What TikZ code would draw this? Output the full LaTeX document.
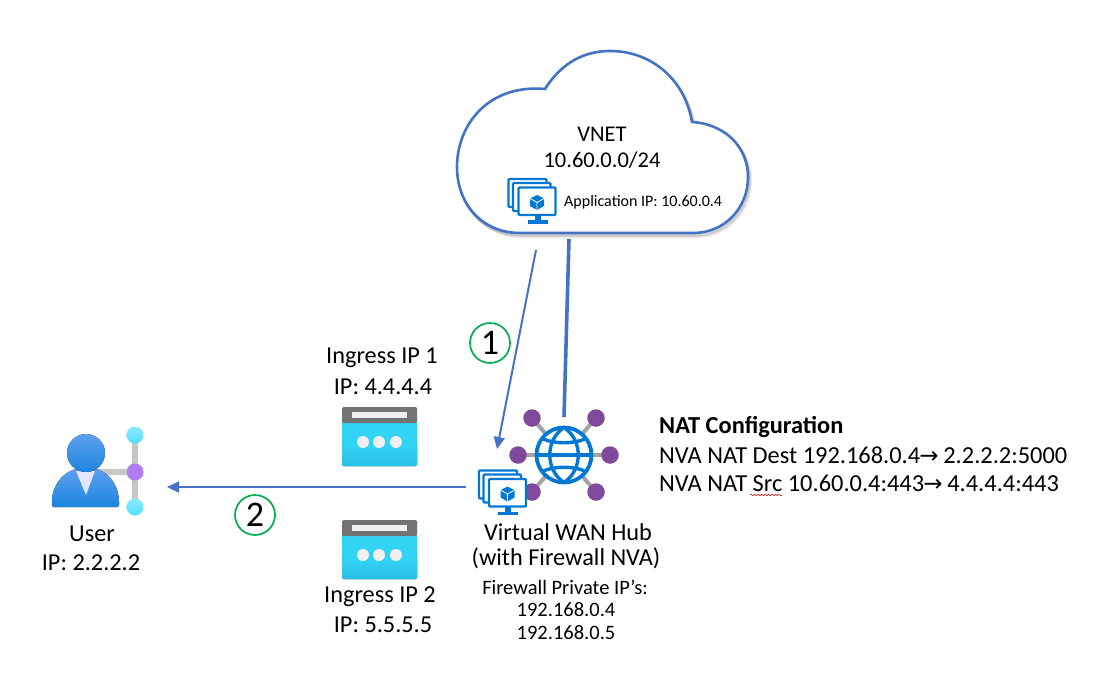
\documentclass[tikz,border=0pt]{standalone}
\usepackage{fontspec}
\setmainfont{Carlito}
\newfontfamily\arrowfont{DejaVu Sans}
\usetikzlibrary{arrows.meta,decorations.pathmorphing}
\definecolor{lineblue}{HTML}{4472C4}
\definecolor{azure}{HTML}{0078D4}
\definecolor{hubpurple}{HTML}{7F4A9C}
\definecolor{spoke}{HTML}{A3A3A3}
\definecolor{circgreen}{HTML}{00B050}
\definecolor{ingtop}{HTML}{32D4F5}
\definecolor{ingbot}{HTML}{28BFE3}
\definecolor{userlight}{HTML}{5EA0EF}
\definecolor{userdark}{HTML}{1B86DC}
\definecolor{dotlight}{HTML}{8DEBFF}
\definecolor{dotdark}{HTML}{50E0FF}
\definecolor{dotviolet}{HTML}{B07EF0}
\newcommand{\cloudpath}{(520,233) .. controls (482,233) and (457,204) .. (457,167)
  .. controls (457,125) and (488,84) .. (545,89)
  .. controls (562,62) and (585,51) .. (610,51)
  .. controls (652,51) and (685,80) .. (692,122)
  .. controls (725,124) and (748,147) .. (748,177)
  .. controls (748,208) and (725,233) .. (693,233) -- cycle}
\newcommand{\txtarrow}{{\arrowfont\fontsize{23}{24}\selectfont\hspace{-0.8pt}→\hspace{-0.8pt}}}
\tikzset{
  label24/.style={font=\fontsize{24.3}{28}\selectfont,text=black,inner sep=0pt,align=center},
  label22/.style={font=\fontsize{22.5}{26}\selectfont,text=black,inner sep=0pt,align=center},
  label20/.style={font=\fontsize{20.5}{24}\selectfont,text=black,inner sep=0pt,align=center},
  label16/.style={font=\fontsize{16}{19}\selectfont,text=black,inner sep=0pt},
  natline/.style={font=\fontsize{24.4}{28}\selectfont,text=black,inner sep=0pt,anchor=west},
  numcircle/.style={circle,draw=circgreen,line width=1.7pt,fill=white,minimum size=40pt,inner sep=0pt,font=\fontsize{36}{38}\selectfont},
  cloudline/.style={draw=lineblue,line width=2.6pt,fill=white},
  flow/.style={draw=lineblue,line width=2pt,-{Triangle[length=12pt,width=11pt]}},
  thickflow/.style={draw=lineblue,line width=3.6pt},
  spokeline/.style={draw=spoke,line width=4pt},
  hubdot/.style={circle,fill=hubpurple,minimum size=17.5pt,inner sep=0pt},
  grayarm/.style={draw=black!22,line width=5.5pt},
  vmframe/.style={draw=azure,line width=2.2pt,rounded corners=1pt,fill=white},
  pics/vmstack/.style={code={
    \draw[vmframe] (1,1) rectangle (39,29);
    \draw[vmframe] (5.5,5) rectangle (43,33);
    \draw[vmframe] (11,9.5) rectangle (48,37);
    \fill[azure] (27,37) rectangle (33,42);
    \fill[azure] (20,42) rectangle (40,45.5);
    \fill[azure] (29.5,17) -- (36.5,20.5) -- (36.5,28) -- (29.5,32) -- (22.5,28) -- (22.5,20.5) -- cycle;
    \draw[white,line width=0.8pt] (22.5,20.5) -- (29.5,24.5) -- (36.5,20.5) (29.5,24.5) -- (29.5,32);
  }},
  pics/ingressicon/.style={code={
    \fill[ingtop,rounded corners=1.5pt] (0,0) rectangle (75,59);
    \fill[bottom color=ingbot,top color=ingtop,rounded corners=1.5pt] (0,38) rectangle (75,59);
    \fill[black!55,rounded corners=1.5pt] (0,0) rectangle (75,16);
    \fill[black!6] (10,5) rectangle (65,11);
    \fill[black!6] (21,35) circle (6);
    \fill[black!6] (37,35) circle (6);
    \fill[black!6] (54,35) circle (6);
  }},
}
\begin{document}
\begin{tikzpicture}[x=1pt,y=-1pt]
\useasboundingbox (0,0) rectangle (1115,690);
\fill[white] (0,0) rectangle (1115,690);

% cloud shadow
\foreach \d/\o in {1/0.12,2/0.09,3/0.06}{
\draw[black,opacity=\o,line width=2.6pt,shift={(\d,\d+1)}] \cloudpath;}
% cloud
\draw[cloudline] \cloudpath;

\node[label22] (vnet) at (602,134) {VNET};
\node[label22] (vnetcidr) at (602,160) {10.60.0.0/24};
\pic at (507.5,178) {vmstack};
\node[label16,anchor=west] (app) at (564,202) {Application IP: 10.60.0.4};

% hub
\coordinate (vnetA) at (536,250);
\coordinate (hubA) at (497,449);
\coordinate (vnetB) at (569,239);
\coordinate (hubB) at (564,417);
\coordinate (hubC) at (466,487);
\coordinate (userC) at (167,487);
\draw[flow] (vnetA) -- (hubA);
\draw[thickflow] (vnetB) -- (hubB);
\draw[flow] (hubC) -- (userC);

\coordinate (globe) at (564,455);
\foreach \n/\x/\y in {a/532/418,b/596/418,c/518/455,d/610/455,e/532/492,f/596/492}{
  \draw[spokeline] (globe) -- (\x,\y);
  \node[hubdot] (dot\n) at (\x,\y) {};
}
\fill[white] (globe) circle (28);
\draw[azure,line width=3.8pt] (globe) circle (27.5);
\draw[azure,line width=3.4pt] (564,427.5) .. controls (545,440) and (545,470) .. (564,482.5);
\draw[azure,line width=3.4pt] (564,427.5) .. controls (583,440) and (583,470) .. (564,482.5);
\draw[azure,line width=3.4pt] (538,455) -- (590,455);
\draw[azure,line width=3.4pt] (543,439) .. controls (555,444) and (573,444) .. (585,439);
\draw[azure,line width=3.4pt] (543,471) .. controls (555,466) and (573,466) .. (585,471);
\pic at (478,469.5) {vmstack};

\node[label24] (hubname) at (568,532) {Virtual WAN Hub};
\node[label24] (hubsub) at (566,558) {(with Firewall NVA)};
\node[label20] (fwtitle) at (565,587) {Firewall Private IP’s:};
\node[label20] (fwone) at (566,610) {192.168.0.4};
\node[label20] (fwtwo) at (566,633) {192.168.0.5};

% NAT
\node[natline,font=\fontsize{24.4}{28}\selectfont\bfseries] (nattitle) at (659,427) {NAT Configuration};
\node[natline] (natdest) at (659,455) {NVA NAT Dest 192.168.0.4\txtarrow{} 2.2.2.2:5000};
\node[natline] (natsrc) at (659,483) {NVA NAT Src 10.60.0.4:443\txtarrow{} 4.4.4.4:443};
\draw[red!80!black,line width=0.5pt,decorate,decoration={snake,amplitude=0.8pt,segment length=3.5pt}] (750,495) -- (782,495);

% numbers
\node[numcircle] (one) at (490,343) {1};
\node[numcircle] (two) at (255,515) {2};

% ingress
\node[label24] (ing1) at (382,358) {Ingress IP 1};
\node[label24] (ing1ip) at (383,387) {IP: 4.4.4.4};
\pic at (342,407) {ingressicon};
\pic at (342,520) {ingressicon};
\node[label24] (ing2) at (380,597) {Ingress IP 2};
\node[label24] (ing2ip) at (383,625) {IP: 5.5.5.5};

% user
\draw[grayarm] (97,472) -- (135,472);
\draw[grayarm] (135,435) -- (135,507);
\node[circle,minimum size=17pt,inner sep=0pt,top color=dotlight,bottom color=dotdark] (usertop) at (135,435) {};
\node[circle,minimum size=17pt,inner sep=0pt,fill=dotviolet] (usermid) at (135,472) {};
\node[circle,minimum size=17pt,inner sep=0pt,top color=dotlight,bottom color=dotdark] (userbot) at (135,507) {};
\fill[top color=userlight,bottom color=userdark,rounded corners=2pt]
  (52,507) -- (52,500) .. controls (54,482) and (66,468) .. (86,468) .. controls (106,468) and (117,482) .. (119,500) -- (119,507) -- cycle;
\fill[blue!10!white] (76,471) -- (95,471) -- (86,495) -- cycle;
\fill[top color=userlight,bottom color=userdark] (86,453) circle (19);
\node[label24] (username) at (92,534) {User};
\node[label24] (userip) at (91,563) {IP: 2.2.2.2};
\end{tikzpicture}
\end{document}
